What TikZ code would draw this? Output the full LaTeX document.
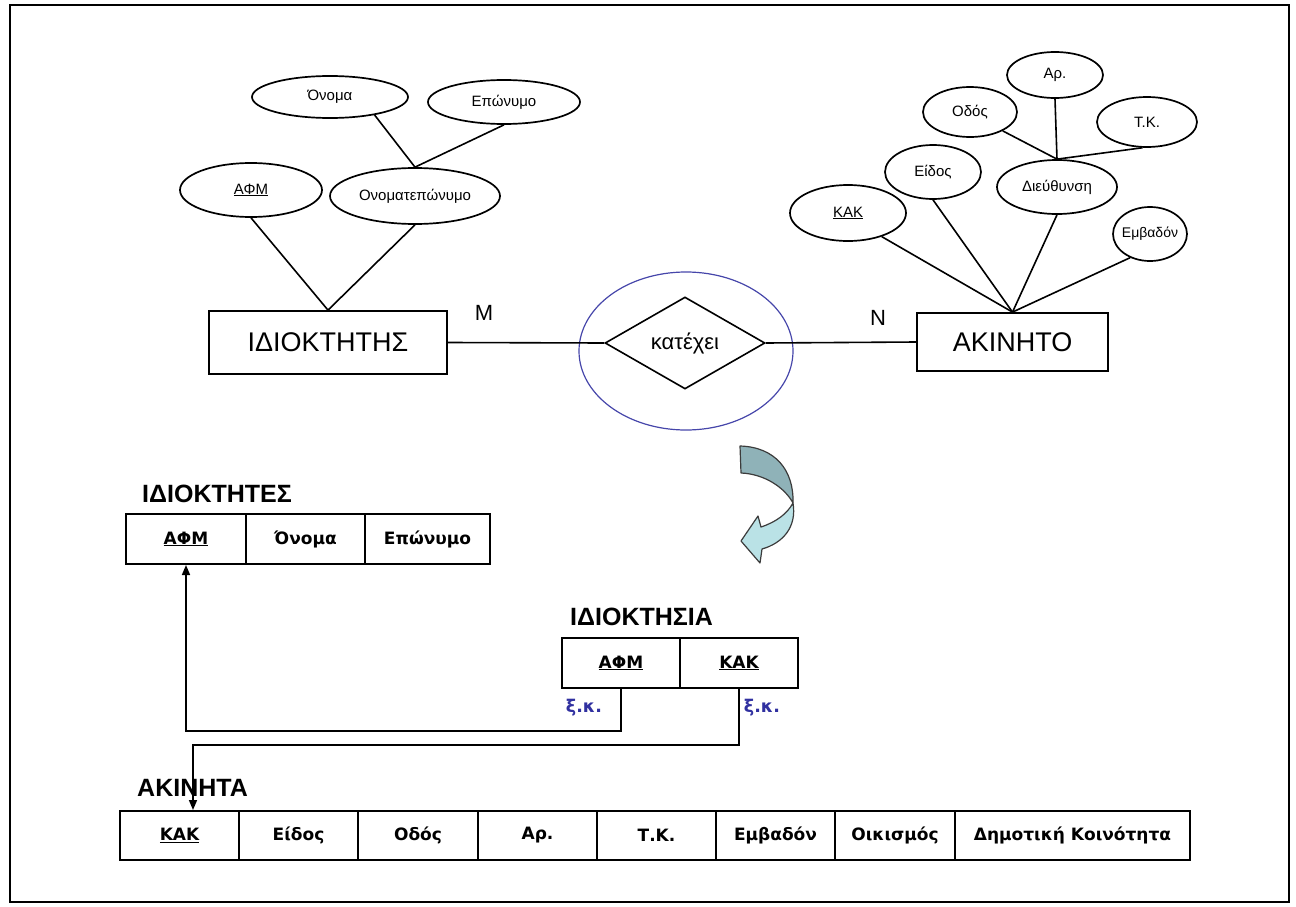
\documentclass[tikz,border=0pt]{standalone}
\usepackage{fontspec}
\setmainfont{Liberation Sans}
\newfontfamily\tabfont{DejaVu Sans}
\usetikzlibrary{shapes.geometric,arrows.meta}
\definecolor{fkblue}{RGB}{48,48,160}
\definecolor{relblue}{RGB}{70,70,170}
\definecolor{arrdark}{RGB}{143,178,184}
\definecolor{arrlight}{RGB}{186,226,230}
\definecolor{arredge}{RGB}{60,60,60}
% label centred over zero width, so the ellipse keeps its given size
\newcommand\attrlabel[1]{\makebox[0pt]{#1}}

\begin{document}
\begin{tikzpicture}[x=1pt,y=-1pt,
  attr/.style={ellipse,draw,line width=1.7pt,inner sep=0pt,
    font=\fontsize{15}{17}\selectfont},
  entity/.style={rectangle,draw,line width=1.8pt,inner sep=0pt,
    font=\fontsize{27}{30}\selectfont},
  relation/.style={diamond,draw,line width=1.6pt,inner sep=0pt,
    minimum width=160pt,minimum height=92pt,font=\fontsize{22}{24}\selectfont},
  link/.style={line width=1.6pt},
  card/.style={inner sep=0pt,font=\fontsize{22}{24}\selectfont},
  cell/.style={rectangle,draw,line width=2pt,inner sep=0pt,minimum height=50pt,
    font=\tabfont\bfseries\fontsize{17}{20}\selectfont},
  ttitle/.style={anchor=base west,inner sep=0pt,
    font=\bfseries\fontsize{25}{28}\selectfont},
  fk/.style={line width=1.6pt},
  fkarrow/.style={fk,-{Triangle[length=10pt,width=8pt]}},
  fklabel/.style={inner sep=0pt,text=fkblue,
    font=\tabfont\bfseries\fontsize{17.5}{20}\selectfont},
]
\useasboundingbox (0,0) rectangle (1296,907);
\draw[line width=2.2pt] (10,5) rectangle (1289,902);

% ---------------- ER diagram ----------------
\node[entity,minimum width=238pt,minimum height=63pt] (idiok) at (328,342.5) {ΙΔΙΟΚΤΗΤΗΣ};
\node[entity,minimum width=191pt,minimum height=58pt] (akinito) at (1012.5,342) {ΑΚΙΝΗΤΟ};
\node[ellipse,draw=relblue,line width=1.2pt,minimum width=214pt,minimum height=158pt] (relc) at (686,351) {};
\node[relation] (kat) at (685,343) {\attrlabel{κατέχει}};
\draw[link] (idiok.east) -- (kat.west);
\draw[link] (kat.east) -- (akinito.west);
\node[card] (cm) at (484,313) {M};
\node[card] (cn) at (878,318) {N};

% owner attributes
\node[attr,minimum width=156pt,minimum height=42pt] (onoma) at (330,97) {\attrlabel{Όνομα}};
\node[attr,minimum width=152pt,minimum height=44pt] (eponymo) at (504,102) {\attrlabel{Επώνυμο}};
\node[attr,minimum width=142pt,minimum height=54pt] (afm) at (251,190) {\attrlabel{\underline{ΑΦΜ}}};
\node[attr,minimum width=170pt,minimum height=56pt] (onomat) at (415,196) {\attrlabel{Ονοματεπώνυμο}};
\draw[link] (onoma.-22) -- (onomat.north);
\draw[link] (eponymo.south) -- (onomat.north);
\draw[link] (afm.south) -- (idiok.north);
\draw[link] (onomat.south) -- (idiok.north);

% property attributes
\node[attr,minimum width=96pt,minimum height=46pt] (ar) at (1055,75) {\attrlabel{Αρ.}};
\node[attr,minimum width=94pt,minimum height=50pt] (odos) at (970,112) {\attrlabel{Οδός}};
\node[attr,minimum width=100pt,minimum height=50pt] (tk) at (1147,122) {\attrlabel{Τ.Κ.}};
\node[attr,minimum width=96pt,minimum height=54pt] (eidos) at (933,172) {\attrlabel{Είδος}};
\node[attr,minimum width=120pt,minimum height=54pt] (dieuth) at (1057,187) {\attrlabel{Διεύθυνση}};
\node[attr,minimum width=116pt,minimum height=56pt] (kak) at (848,213) {\attrlabel{\underline{ΚΑΚ}}};
\node[attr,minimum width=74pt,minimum height=54pt] (emvadon) at (1150,234) {\attrlabel{\fontsize{14}{16}\selectfont Εμβαδόν}};
\draw[link] (odos.-30) -- (dieuth.north);
\draw[link] (ar.south) -- (dieuth.north);
\draw[link] (tk.-100) -- (dieuth.north);
\draw[link] (kak.-35) -- (akinito.north);
\draw[link] (eidos.south) -- (akinito.north);
\draw[link] (dieuth.south) -- (akinito.north);
\draw[link] (emvadon.-130) -- (akinito.north);

% ---------------- mapping arrow ----------------
\fill[arrdark,draw=arredge,line width=1.2pt,line join=round]
  (740,446) .. controls (775,447) and (794,470) .. (793,503)
  .. controls (785,488) and (765,474) .. (741,473) -- cycle;
\fill[arrlight,draw=arredge,line width=1.2pt,line join=round]
  (793,503) .. controls (797,527) and (783,543) .. (762,549)
  -- (760,563) -- (741,541) -- (758,516) -- (761,527)
  .. controls (776,522) and (787,514) .. (793,503) -- cycle;

% ---------------- relational tables ----------------
\node[ttitle] (t_own) at (142,502) {ΙΔΙΟΚΤΗΤΕΣ};
\node[cell,minimum width=120pt] (o_afm) at (186,539) {\underline{ΑΦΜ}};
\node[cell,minimum width=119pt] (o_name) at (305.5,539) {Όνομα};
\node[cell,minimum width=125pt] (o_surn) at (427.5,539) {Επώνυμο};

\node[ttitle] (t_rel) at (570,625) {ΙΔΙΟΚΤΗΣΙΑ};
\node[cell,minimum width=118pt] (p_afm) at (621,663) {\underline{ΑΦΜ}};
\node[cell,minimum width=118pt] (p_kak) at (739,663) {\underline{ΚΑΚ}};
\node[fklabel] (fk1) at (584,708) {ξ.κ.};
\node[fklabel] (fk2) at (762,708) {ξ.κ.};

\node[ttitle] (t_prop) at (137,796) {ΑΚΙΝΗΤΑ};
\node[cell,minimum width=119pt,minimum height=49pt] (a_kak) at (179.5,835.5) {\underline{ΚΑΚ}};
\node[cell,minimum width=119pt,minimum height=49pt] (a_eid) at (298.5,835.5) {Είδος};
\node[cell,minimum width=120pt,minimum height=49pt] (a_odos) at (418,835.5) {Οδός};
\node[cell,minimum width=119pt,minimum height=49pt] (a_ar) at (537.5,835.5) {Αρ.};
\node[cell,minimum width=119pt,minimum height=49pt] (a_tk) at (656.5,835.5) {Τ.Κ.};
\node[cell,minimum width=119pt,minimum height=49pt] (a_emv) at (775.5,835.5) {Εμβαδόν};
\node[cell,minimum width=120pt,minimum height=49pt] (a_oik) at (895,835.5) {Οικισμός};
\node[cell,minimum width=235pt,minimum height=49pt] (a_dk) at (1072.5,835.5) {Δημοτική Κοινότητα};

% foreign keys
\coordinate (k1) at (186,731);
\coordinate (k2) at (193,745);
\draw[fkarrow] (p_afm.south) |- (k1) -- (o_afm.south);
\draw[fkarrow] (p_kak.south) |- (k2) -- (k2 |- a_kak.north);
\end{tikzpicture}
\end{document}
